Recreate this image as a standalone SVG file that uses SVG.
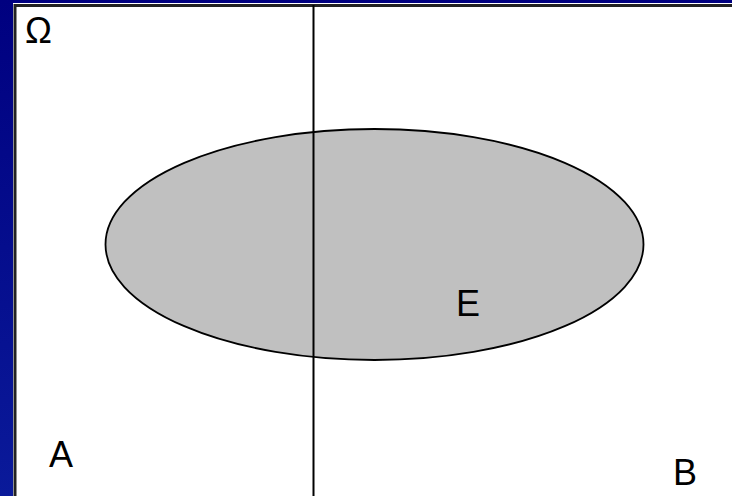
<svg xmlns="http://www.w3.org/2000/svg" width="732" height="496" viewBox="0 0 732 496">
  <defs>
    <linearGradient id="bg" x1="0" y1="0" x2="0" y2="1">
      <stop offset="0" stop-color="#000080"/>
      <stop offset="1" stop-color="#0a1a9a"/>
    </linearGradient>
  </defs>
  <style>
    .lbl { font-family: "Liberation Sans", Arial, sans-serif; font-size: 36px; fill: #000; }
  </style>
  <rect x="0" y="0" width="732" height="496" fill="url(#bg)"/>
  <g id="frame">
    <rect x="13" y="3" width="719" height="493" fill="#ffffff"/>
    <path d="M15,496 V5.5 H732" fill="none" stroke="#222" stroke-width="3"/>
  </g>
  <g id="E">
    <ellipse cx="374.5" cy="244.5" rx="269" ry="115.5" fill="#c0c0c0" stroke="#000" stroke-width="1.8"/>
    <text class="lbl" x="456" y="316">E</text>
  </g>
  <g id="connectors">
    <line x1="313.5" y1="5" x2="313.5" y2="496" stroke="#000" stroke-width="2"/>
  </g>
  <g id="Omega">
    <text class="lbl" x="25" y="43">Ω</text>
  </g>
  <g id="A">
    <text class="lbl" x="49" y="467">A</text>
  </g>
  <g id="B">
    <text class="lbl" x="673" y="485">B</text>
  </g>
</svg>
